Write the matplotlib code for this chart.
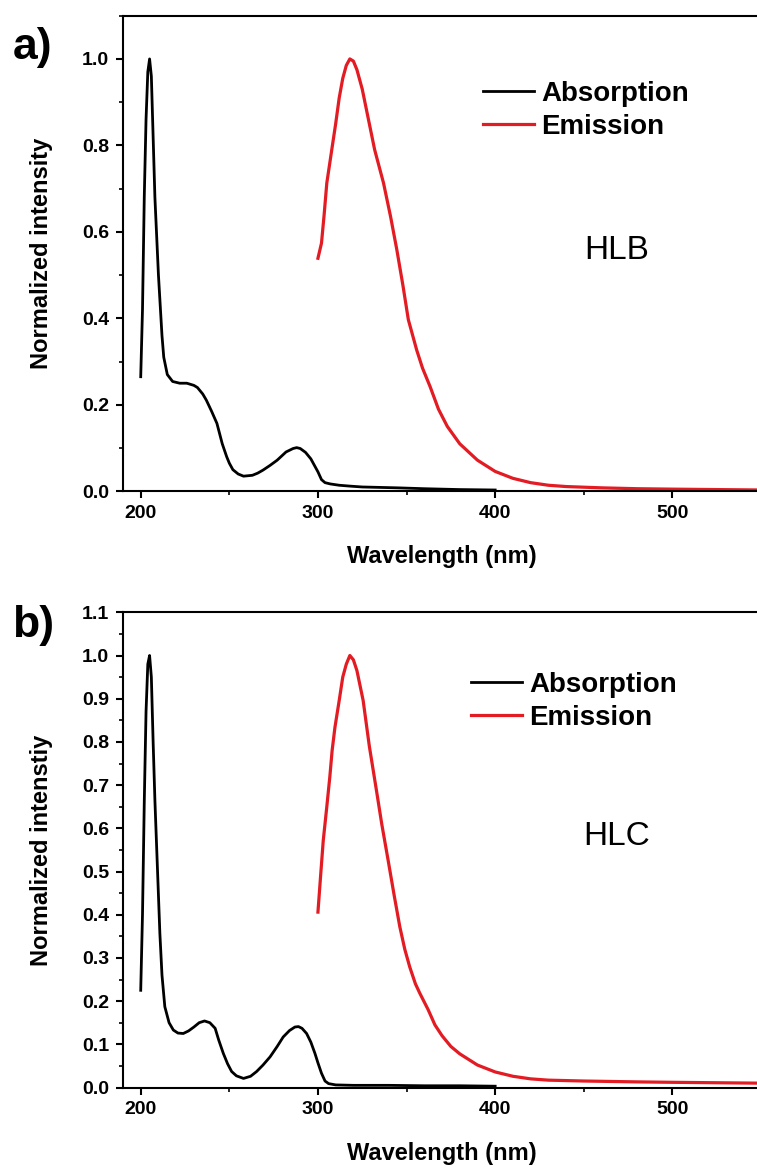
import matplotlib
matplotlib.use("Agg")
import matplotlib.pyplot as plt
from matplotlib.ticker import MultipleLocator

plt.rcParams['font.family'] = ['Liberation Sans', 'DejaVu Sans']

# ---- HLB (panel a) ----
abs_a_wl = [200, 201, 202, 203, 204, 205, 206, 207, 208, 210, 212, 213, 215, 218, 222, 226,
            230, 232, 235, 237, 240, 243, 246, 248.5, 250, 252, 255, 258, 263, 266, 269, 273,
            277, 282, 286, 288, 290, 293, 296, 298, 300, 302, 304, 307, 312, 318, 325, 335,
            345, 360, 380, 400]
abs_a = [0.265, 0.42, 0.68, 0.86, 0.97, 1.0, 0.96, 0.82, 0.68, 0.50, 0.36, 0.31, 0.27, 0.254,
         0.25, 0.25, 0.245, 0.24, 0.225, 0.211, 0.185, 0.157, 0.11, 0.08, 0.065, 0.05, 0.04,
         0.035, 0.037, 0.042, 0.049, 0.06, 0.072, 0.091, 0.099, 0.101, 0.099, 0.09, 0.075,
         0.06, 0.045, 0.027, 0.02, 0.017, 0.014, 0.012, 0.01, 0.009, 0.008, 0.006, 0.004, 0.003]

em_a_wl = [300, 302, 303.5, 305, 307.8, 310, 312, 314, 316, 318, 320, 322, 325, 328, 332, 337,
           341, 344.5, 348, 351, 355.7, 359, 363.3, 368, 373, 380, 390, 400, 410, 420, 430,
           440, 460, 480, 500, 525, 550]
em_a = [0.539, 0.574, 0.64, 0.713, 0.79, 0.85, 0.91, 0.955, 0.985, 1.0, 0.995, 0.975, 0.93,
        0.87, 0.79, 0.713, 0.635, 0.559, 0.475, 0.397, 0.327, 0.285, 0.242, 0.19, 0.15, 0.11,
        0.072, 0.046, 0.03, 0.02, 0.014, 0.011, 0.008, 0.006, 0.005, 0.004, 0.003]

# ---- HLC (panel b) ----
abs_b_wl = [200, 201, 202, 203, 204, 205, 206, 207, 208, 209.5, 210.8, 212, 213.6, 216, 218.4,
            221, 224, 227, 230, 233, 236, 239, 242, 244, 246.6, 249, 251.3, 254, 258, 262,
            265.4, 269, 273, 277, 280.4, 284, 287, 289, 291, 293.6, 296, 298.3, 300, 302, 304,
            306, 310, 320, 340, 360, 380, 400]
abs_b = [0.225, 0.40, 0.66, 0.87, 0.98, 1.0, 0.95, 0.80, 0.665, 0.50, 0.357, 0.26, 0.187, 0.15,
         0.133, 0.126, 0.125, 0.131, 0.14, 0.15, 0.154, 0.15, 0.137, 0.11, 0.079, 0.055, 0.037,
         0.027, 0.021, 0.026, 0.037, 0.052, 0.071, 0.095, 0.117, 0.132, 0.14, 0.141, 0.137,
         0.125, 0.105, 0.079, 0.057, 0.033, 0.015, 0.009, 0.006, 0.005, 0.005, 0.004, 0.004, 0.003]

em_b_wl = [300, 301.5, 303, 305, 306.7, 308, 309.6, 312, 314, 316, 318, 320, 322, 325.5, 329,
           333, 336, 339.6, 343, 346.2, 349, 351.8, 355, 357.5, 362.2, 366, 370, 375, 380, 390,
           400, 410, 420, 430, 450, 480, 500, 525, 550]
em_b = [0.406, 0.49, 0.572, 0.65, 0.719, 0.78, 0.834, 0.896, 0.95, 0.98, 1.0, 0.99, 0.965, 0.896,
        0.79, 0.688, 0.61, 0.526, 0.445, 0.372, 0.32, 0.279, 0.24, 0.218, 0.18, 0.145, 0.12,
        0.095, 0.078, 0.052, 0.036, 0.026, 0.02, 0.017, 0.015, 0.013, 0.012, 0.011, 0.01]

red = '#e31b23'
W, H = 757, 1169
fig = plt.figure(figsize=(W / 100, H / 100), dpi=100)

panels = [
    dict(bottom=491.3, top=15.7, absx=abs_a_wl, absy=abs_a, emx=em_a_wl, emy=em_a,
         ylab='Normalized intensity', name='HLB', tag='a)', tag_y=47, major=0.2, minor=0.1,
         leg_x=0.564, leg_y=0.863, name_y=0.507),
    dict(bottom=1087.5, top=612.3, absx=abs_b_wl, absy=abs_b, emx=em_b_wl, emy=em_b,
         ylab='Normalized intenstiy', name='HLC', tag='b)', tag_y=625, major=0.1, minor=0.05,
         leg_x=0.545, leg_y=0.874, name_y=0.529),
]

for p in panels:
    left = 123 / W
    width = (761 - 123) / W
    ax = fig.add_axes([left, 1 - p['bottom'] / H, width, (p['bottom'] - p['top']) / H])
    ax.plot(p['absx'], p['absy'], color='black', lw=2.0, label='Absorption')
    ax.plot(p['emx'], p['emy'], color=red, lw=2.3, label='Emission')
    ax.set_xlim(190, 550)
    ax.set_ylim(0, 1.1)
    ax.xaxis.set_major_locator(MultipleLocator(100))
    ax.xaxis.set_minor_locator(MultipleLocator(50))
    ax.yaxis.set_major_locator(MultipleLocator(p['major']))
    ax.yaxis.set_minor_locator(MultipleLocator(p['minor']))
    ax.set_xticks([200, 300, 400, 500])
    for s in ax.spines.values():
        s.set_linewidth(1.5)
    ax.spines['right'].set_visible(False)
    ax.tick_params(which='major', direction='out', length=5, width=1.5, labelsize=14, pad=5)
    ax.tick_params(which='minor', direction='out', length=3, width=1.2)
    for lb in ax.get_xticklabels() + ax.get_yticklabels():
        lb.set_fontweight('bold')
    ax.set_xlabel('Wavelength (nm)', fontsize=17, fontweight='bold')
    ax.set_ylabel(p['ylab'], fontsize=17, fontweight='bold')
    ax.xaxis.set_label_coords(0.5, -0.138)
    ax.yaxis.set_label_coords(-0.127, 0.5)
    ax.xaxis.label.set_va('center')
    ax.yaxis.label.set_va('center')
    ax.legend(loc='upper left', bbox_to_anchor=(p['leg_x'], p['leg_y']), frameon=False,
              prop=dict(size=20, weight='bold'), handlelength=1.85, handletextpad=0.25,
              borderpad=0, borderaxespad=0, labelspacing=0.25)
    ax.text(0.774, p['name_y'], p['name'], transform=ax.transAxes, fontsize=24,
            ha='center', va='center')
    fig.text(33 / W, 1 - p['tag_y'] / H, p['tag'], fontsize=32, fontweight='bold',
             ha='center', va='center')

fig.savefig('out.png', dpi=100)
